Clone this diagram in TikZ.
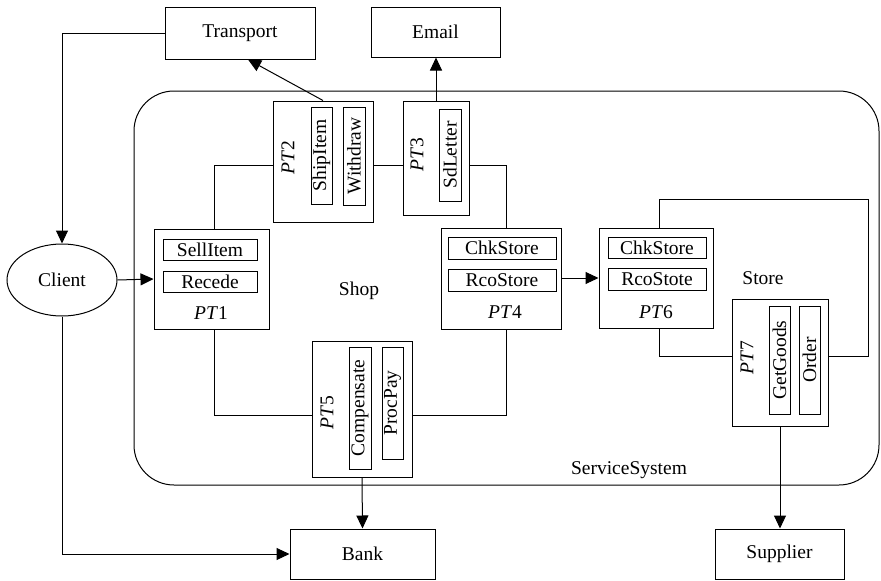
\documentclass[tikz,border=0pt]{standalone}
\usepackage{fontspec}
\setmainfont{Liberation Serif}
\usetikzlibrary{arrows.meta,shapes.geometric}
\begin{document}
\begin{tikzpicture}[x=1pt,y=-1pt,
  every node/.style={font=\fontsize{19.5}{20}\selectfont, inner sep=0pt},
  ext/.style={draw, line width=1pt, minimum width=#1, minimum height=50},
  pt/.style={draw, line width=1pt},
  op/.style={draw, line width=1pt, minimum height=21},
  vop/.style={draw, line width=1pt, minimum height=21, rotate=90},
  con/.style={line width=1pt},
  arr/.style={line width=1pt, -{Triangle[length=13pt,width=12pt]}}]
\useasboundingbox (0,0) rectangle (881,581);
% system boundary
\draw[line width=1pt, rounded corners=40pt] (134,91) rectangle (879,485);
\node (sys) at (629,470) {ServiceSystem};
\node (shop) at (359,291) {Shop};
\node (store) at (763,278) {Store};
% external
\node[ext=150, minimum height=52] (tr) at (240,33) {Transport};
\node[ext=129] (em) at (435.5,32) {Email};
\node[ext=145] (bank) at (362.5,554) {Bank};
\node[ext=129] (sup) at (779.5,554) {Supplier};
\node[draw, line width=1pt, ellipse, minimum width=110, minimum height=72] (cl) at (62,280) {Client};
% PT1
\node[pt, minimum width=115, minimum height=100] (pt1) at (211.5,279) {};
\node[op, minimum width=94] (sell) at (210,249.5) {SellItem};
\node[op, minimum width=94] (rec) at (210,281.5) {Recede};
\node (pt1l) at (211,313) {\textit{PT}1};
% PT2
\node[pt, minimum width=100, minimum height=121] (pt2) at (323,161.5) {};
\node[vop, minimum width=97] (ship) at (321.5,155.5) {ShipItem};
\node[vop, minimum width=98, minimum height=22] (wd) at (354,156) {Withdraw};
\node[rotate=90] (pt2l) at (288,158) {\textit{PT}2};
% PT3
\node[pt, minimum width=66, minimum height=114] (pt3) at (436,158) {};
\node[vop, minimum width=92, minimum height=22] (sdl) at (450,155) {SdLetter};
\node[rotate=90] (pt3l) at (417,155) {\textit{PT}3};
% PT4
\node[pt, minimum width=120, minimum height=101] (pt4) at (501,278.5) {};
\node[op, minimum width=108, minimum height=22] (chk1) at (502,248) {ChkStore};
\node[op, minimum width=108, minimum height=22] (rco1) at (502,280) {RcoStore};
\node (pt4l) at (505,312) {\textit{PT}4};
% PT5
\node[pt, minimum width=100, minimum height=136] (pt5) at (362,409) {};
\node[vop, minimum width=122, minimum height=22] (comp) at (360,408) {Compensate};
\node[vop, minimum width=112] (proc) at (392.5,403) {ProcPay};
\node[rotate=90] (pt5l) at (327,413) {\textit{PT}5};
% PT6
\node[pt, minimum width=114, minimum height=100] (pt6) at (656,278) {};
\node[op, minimum width=98] (chk2) at (657,247.5) {ChkStore};
\node[op, minimum width=98, minimum height=22] (rco2) at (657,279) {RcoStote};
\node (pt6l) at (656,312) {\textit{PT}6};
% PT7
\node[pt, minimum width=96, minimum height=127] (pt7) at (780,362.5) {};
\node[vop, minimum width=108] (gg) at (779.5,360) {GetGoods};
\node[vop, minimum width=108] (ord) at (809.5,360) {Order};
\node[rotate=90] (pt7l) at (747,358) {\textit{PT}7};
% routing coordinates
\coordinate (ya) at (0,165);
\coordinate (yb) at (0,415);
\coordinate (yc) at (0,199);
\coordinate (yd) at (0,356);
\coordinate (xa) at (214,0);
\coordinate (xb) at (506,0);
\coordinate (xc) at (659,0);
\coordinate (xd) at (868,0);
\coordinate (ye) at (0,278);
% connectors
\draw[arr] (tr.west) -| (cl.north);
\draw[arr] (cl.east) -- (pt1.west);
\draw[arr] (cl.south) |- (bank.west);
\draw[arr] (pt2.north) -- ([xshift=8pt]tr.south);
\draw[arr] (pt3.north) -- (pt3.north |- em.south);
\draw[con] (xa |- pt1.north) |- (pt2.west |- ya);
\draw[con] (pt2.east |- ya) -- (pt3.west |- ya);
\draw[con] (pt3.east |- ya) -| (xb |- pt4.north);
\draw[con] (xa |- pt1.south) |- (pt5.west |- yb);
\draw[con] (xb |- pt4.south) |- (pt5.east |- yb);
\draw[arr] (pt5.south) -- (bank.north);
\draw[arr] (pt4.east |- ye) -- (pt6.west |- ye);
\draw[con] (xc |- pt6.north) -- (xc |- yc) -| (xd |- yd) -- (pt7.east |- yd);
\draw[con] (xc |- pt6.south) |- (pt7.west |- yd);
\draw[arr] (pt7.south) -- (pt7.south |- sup.north);
\end{tikzpicture}
\end{document}
